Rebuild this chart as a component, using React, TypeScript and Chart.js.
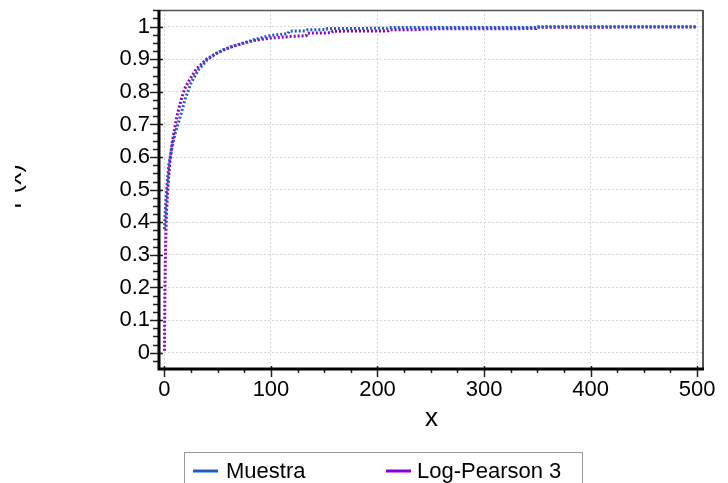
import React, { useEffect, useRef } from "react";
import { Chart, registerables } from "chart.js";

Chart.register(...registerables);

// ---- data ----
const seriesNames = ["Muestra", "Log-Pearson 3"];

const muestraX = [0, 1, 2.2, 4, 7.2, 10, 13.5, 19.7, 25, 32, 40, 48, 56, 64, 72, 85, 100, 116, 117, 133, 134, 152, 153, 209, 210, 349, 350, 500];
const muestraY = [0.379, 0.45, 0.505, 0.575, 0.632, 0.672, 0.709, 0.781, 0.828, 0.868, 0.898, 0.917, 0.93, 0.94, 0.948, 0.961, 0.973, 0.979, 0.986, 0.987, 0.99, 0.991, 0.994, 0.995, 0.997, 0.997, 1.0, 1.0];

const lp3X = [0, 0.1, 0.2, 0.35, 0.5, 0.7, 0.95, 1.3, 1.6, 2.2, 3.1, 4.2, 5.3, 7, 9.4, 12, 15.7, 19, 23.5, 30, 39, 47, 56, 64, 72, 85, 100, 116, 117, 133, 134, 157, 158, 210, 211, 241, 242, 349, 350, 500];
const lp3Y = [0, 0.05, 0.1, 0.16, 0.21, 0.26, 0.306, 0.36, 0.403, 0.45, 0.5, 0.55, 0.592, 0.64, 0.684, 0.73, 0.776, 0.81, 0.837, 0.87, 0.899, 0.915, 0.929, 0.939, 0.947, 0.958, 0.965, 0.969, 0.97, 0.972, 0.98, 0.981, 0.986, 0.987, 0.99, 0.991, 0.993, 0.994, 0.998, 0.999];

const xTicks = [0, 100, 200, 300, 400, 500];
const yTicks = [0, 0.1, 0.2, 0.3, 0.4, 0.5, 0.6, 0.7, 0.8, 0.9, 1];
const xTitle = "x";
const yTitle = "F(x)";

const FONT = "'Liberation Sans', Arial, Helvetica, sans-serif";
const BLUE = "#2159c9";
const PURPLE = "#8a00d0";

export default function App() {
  const ref = useRef<HTMLCanvasElement>(null);

  useEffect(() => {
    const canvas = ref.current;
    if (!canvas) return;

    const decor = {
      id: "decor",
      afterDraw(chart: any) {
        const { ctx, chartArea: a, scales } = chart;
        const xs = scales.x;
        const ys = scales.y;
        ctx.save();

        // top & right frame
        ctx.strokeStyle = "#555";
        ctx.lineWidth = 1.5;
        ctx.beginPath();
        ctx.moveTo(a.left, a.top + 0.5);
        ctx.lineTo(a.right, a.top + 0.5);
        ctx.stroke();
        ctx.lineWidth = 2;
        ctx.beginPath();
        ctx.moveTo(a.right, a.top);
        ctx.lineTo(a.right, a.bottom);
        ctx.stroke();

        // y ticks (major + minor)
        ctx.strokeStyle = "#222";
        ctx.lineWidth = 1.5;
        const yStep = 0.025;
        for (let k = Math.ceil(ys.min / yStep); k <= Math.floor(ys.max / yStep); k++) {
          const v = k * yStep;
          const py = Math.round(ys.getPixelForValue(v)) + 0.5;
          const major = k % 4 === 0;
          ctx.beginPath();
          ctx.moveTo(a.left - (major ? 10 : 7), py);
          ctx.lineTo(a.left + (major ? 3 : 0), py);
          ctx.stroke();
        }
        // x ticks (major + minor)
        const xStep = 25;
        for (let k = Math.ceil(xs.min / xStep); k <= Math.floor(xs.max / xStep); k++) {
          const v = k * xStep;
          const px = Math.round(xs.getPixelForValue(v)) + 0.5;
          const major = k % 4 === 0;
          ctx.beginPath();
          ctx.moveTo(px, a.bottom - (major ? 2 : 0));
          ctx.lineTo(px, a.bottom + (major ? 9 : 5));
          ctx.stroke();
        }

        // left & bottom axis lines
        ctx.strokeStyle = "#000";
        ctx.lineWidth = 3;
        ctx.beginPath();
        ctx.moveTo(a.left - 1, a.top);
        ctx.lineTo(a.left - 1, a.bottom + 1);
        ctx.lineTo(a.right + 1, a.bottom + 1);
        ctx.stroke();

        // x title
        ctx.fillStyle = "#000";
        ctx.font = `26px ${FONT}`;
        ctx.textAlign = "center";
        ctx.textBaseline = "alphabetic";
        ctx.fillText(xTitle, (a.left + a.right) / 2, 426);

        // y title (clipped at left)
        ctx.save();
        ctx.beginPath();
        ctx.rect(15, 0, 713, 483);
        ctx.clip();
        ctx.translate(21, 186.5);
        ctx.rotate(-Math.PI / 2);
        ctx.font = `25px ${FONT}`;
        ctx.textAlign = "center";
        ctx.fillText(yTitle, 0, 0);
        ctx.restore();

        // legend
        ctx.strokeStyle = "#9a9a9a";
        ctx.lineWidth = 1;
        ctx.strokeRect(184.5, 452.5, 398, 40);
        ctx.lineWidth = 3;
        ctx.strokeStyle = BLUE;
        ctx.beginPath();
        ctx.moveTo(193, 471);
        ctx.lineTo(218, 471);
        ctx.stroke();
        ctx.strokeStyle = PURPLE;
        ctx.beginPath();
        ctx.moveTo(386, 471);
        ctx.lineTo(411, 471);
        ctx.stroke();
        ctx.fillStyle = "#000";
        ctx.font = `22px ${FONT}`;
        ctx.textAlign = "left";
        ctx.fillText(seriesNames[0], 226, 478);
        ctx.fillText(seriesNames[1], 417, 478);

        ctx.restore();
      },
    };

    const chart = new Chart(canvas, {
      type: "scatter",
      data: {
        datasets: [
          {
            label: seriesNames[0],
            data: muestraX.map((x, i) => ({ x, y: muestraY[i] })),
            borderColor: BLUE,
            backgroundColor: BLUE,
            borderWidth: 3,
            borderDash: [2, 2],
            pointRadius: 0,
            showLine: true,
            fill: false,
            tension: 0,
          },
          {
            label: seriesNames[1],
            data: lp3X.map((x, i) => ({ x, y: lp3Y[i] })),
            borderColor: PURPLE,
            backgroundColor: PURPLE,
            borderWidth: 3,
            borderDash: [2, 2],
            borderDashOffset: 2,
            pointRadius: 0,
            showLine: true,
            fill: false,
            tension: 0,
          },
        ],
      },
      options: {
        animation: false,
        responsive: false,
        maintainAspectRatio: false,
        layout: { padding: { left: 0, right: 25, top: 10, bottom: 0 } },
        plugins: {
          legend: { display: false },
          tooltip: { enabled: false },
          title: { display: false },
        },
        scales: {
          x: {
            type: "linear",
            min: -4.2,
            max: 505.6,
            afterBuildTicks: (s: any) => {
              s.ticks = xTicks.map((v) => ({ value: v }));
            },
            afterFit: (s: any) => {
              s.height = 115;
              s.paddingLeft = 0;
              s.paddingRight = 0;
            },
            grid: { color: "#d6d6d6", lineWidth: 1, drawTicks: false },
            border: { display: false, dash: [2, 2] },
            ticks: {
              color: "#000",
              font: { family: FONT, size: 22 },
              padding: 9,
              maxRotation: 0,
              autoSkip: false,
              callback: (v: any) => String(v),
            },
          },
          y: {
            type: "linear",
            min: -0.047,
            max: 1.051,
            afterBuildTicks: (s: any) => {
              s.ticks = yTicks.map((v) => ({ value: v }));
            },
            afterFit: (s: any) => {
              s.width = 160;
              s.paddingTop = 0;
              s.paddingBottom = 0;
            },
            grid: { color: "#d6d6d6", lineWidth: 1, drawTicks: false },
            border: { display: false, dash: [2, 2] },
            ticks: {
              color: "#000",
              font: { family: FONT, size: 22 },
              padding: 10,
              autoSkip: false,
              callback: (v: any) => String(v),
            },
          },
        },
      },
      plugins: [decor],
    });

    return () => chart.destroy();
  }, []);

  return (
    <div style={{ position: "fixed", left: 0, top: 0, width: 728, height: 483, background: "#fff" }}>
      <canvas ref={ref} width={728} height={483} style={{ display: "block" }} />
    </div>
  );
}
